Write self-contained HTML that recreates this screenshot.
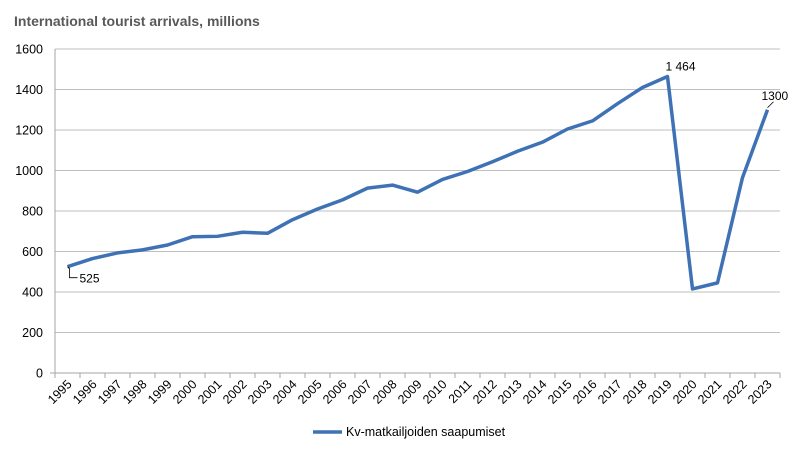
<!DOCTYPE html>
<html><head><meta charset="utf-8"><style>
body{margin:0;background:#fff;font-family:"Liberation Sans",sans-serif}
</style></head><body>
<svg width="800" height="454" id="c" xmlns="http://www.w3.org/2000/svg">
<text x="14" y="26" font-size="14" font-weight="bold" fill="#595959">International tourist arrivals, millions</text>
<g id="grid"></g><g id="xl"></g>
<polyline id="line" fill="none" stroke="#3F72B5" stroke-width="3.5" stroke-linejoin="round"/>
<g id="ann"></g>
<g>
<line x1="313" y1="432" x2="342" y2="432" stroke="#3F72B5" stroke-width="3.5"/>
<text x="346" y="436" font-size="12.5" fill="#000">Kv-matkailjoiden saapumiset</text>
</g>
</svg>
<script>
const years=[1995,1996,1997,1998,1999,2000,2001,2002,2003,2004,2005,2006,2007,2008,2009,2010,2011,2012,2013,2014,2015,2016,2017,2018,2019,2020,2021,2022,2023];
const arrivals=[525,565,593,608,632,673,675,695,690,757,810,855,913,928,893,956,995,1043,1095,1140,1205,1245,1330,1410,1464,415,445,965,1300];
const yTicks=[0,200,400,600,800,1000,1200,1400,1600];
const NS="http://www.w3.org/2000/svg";
const L=55,R=780,T=49,B=373,YMAX=1600;
const bw=(R-L)/years.length;
const xs=i=>L+bw*(i+0.5);
const ys=v=>B-(v/YMAX)*(B-T);
function mk(t,a,p){const e=document.createElementNS(NS,t);for(const k in a)e.setAttribute(k,a[k]);p.appendChild(e);return e;}
const g=document.getElementById('grid');
yTicks.forEach(v=>{
 const ln=mk('line',{x1:L,x2:R,y1:ys(v),y2:ys(v),stroke:v===0?'#A6A6A6':'#BFBFBF','stroke-width':1},g);
 
 
 const t=mk('text',{x:L-12,y:ys(v)+4.5,'text-anchor':'end','font-size':12.5,fill:'#000'},g);
 t.textContent=v;
 
 
});
mk('line',{x1:L,x2:L,y1:T,y2:B,stroke:'#A6A6A6'},g);
mk('line',{x1:L-5,x2:L,y1:B,y2:B,stroke:'#A6A6A6'},g);
const xl=document.getElementById('xl');
years.forEach((y,i)=>{
 mk('line',{x1:L+bw*i,x2:L+bw*i,y1:B,y2:B+5,stroke:'#A6A6A6'},xl);
 const cx=xs(i)+5,cy=B+12;
 const t=mk('text',{x:cx,y:cy,'text-anchor':'end','font-size':12.5,fill:'#000',transform:`rotate(-45 ${cx} ${cy})`},xl);
 t.textContent=y;
 
 
});
mk('line',{x1:R,x2:R,y1:B,y2:B+5,stroke:'#A6A6A6'},xl);
document.getElementById('line').setAttribute('points',arrivals.map((v,i)=>xs(i)+','+ys(v)).join(' '));
const an=document.getElementById('ann');
function label(i,txt,dx,dy,path){
 const x=xs(i),y=ys(arrivals[i]);
 mk('path',{d:path(x,y),fill:'none',stroke:'#000','stroke-width':0.8},an);
 const t=mk('text',{x:x+dx,y:y+dy,'font-size':12,fill:'#000'},an);
 t.textContent=txt;
 
 
}
label(0,'525',12,16,(x,y)=>`M${x},${y} L${x+2},${y+2} L${x+2},${y+11} L${x+10},${y+11}`);
label(24,'1 464',-2,-6,(x,y)=>`M${x},${y} L${x},${y}`);
label(28,'1300',-6,-10,(x,y)=>`M${x},${y-2} L${x+6},${y-8}`);
</script>
</body></html>
